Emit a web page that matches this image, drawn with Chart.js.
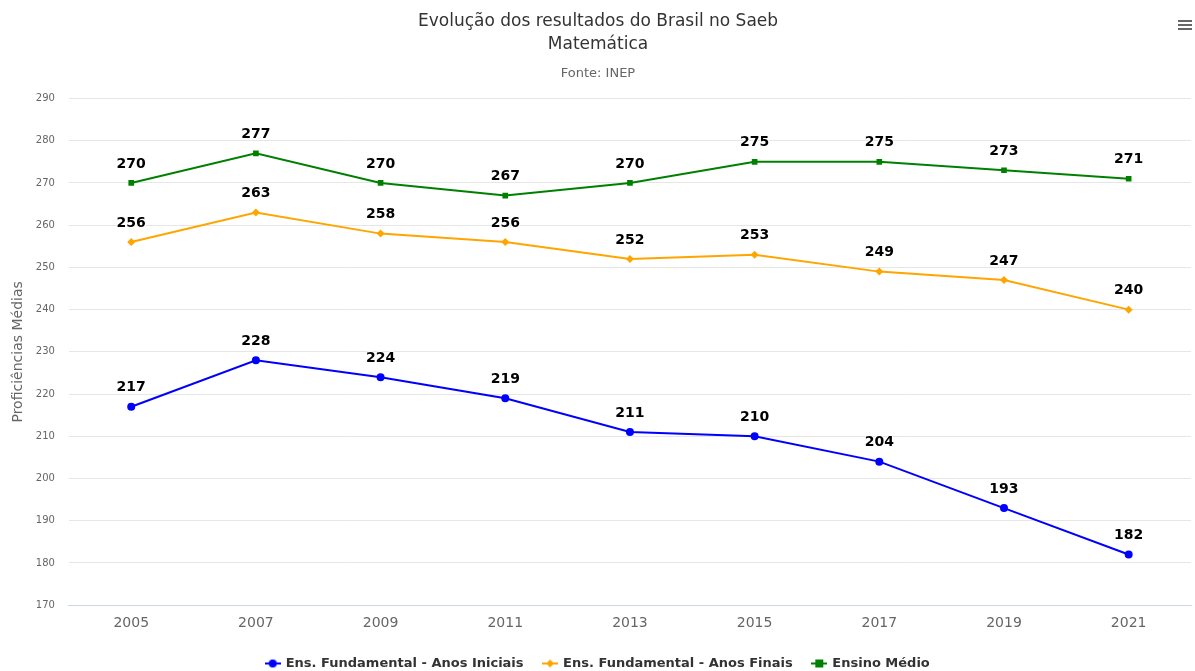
<!DOCTYPE html>
<html>
<head>
<meta charset="utf-8">
<script src="https://cdn.jsdelivr.net/npm/chart.js@4"></script>
<style>
  html, body { margin: 0; padding: 0; background: #fff; }
  #wrap { width: 1195px; height: 671px; position: relative; }
  #menu { position: absolute; right: 3px; top: 20px; width: 14px; }
  #menu span { display: block; height: 2px; background: #666; margin-bottom: 2px; }
</style>
</head>
<body>
<div id="wrap">
  <canvas id="saebChart" width="1195" height="671"></canvas>
  <div id="menu"><span></span><span></span><span></span></div>
</div>
<script>
const anos = ['2005', '2007', '2009', '2011', '2013', '2015', '2017', '2019', '2021'];
const anosIniciais = [217, 228, 224, 219, 211, 210, 204, 193, 182];
const anosFinais = [256, 263, 258, 256, 252, 253, 249, 247, 240];
const ensinoMedio = [270, 277, 270, 267, 270, 275, 275, 273, 271];

const fontFamily = '"DejaVu Sans", Verdana, sans-serif';

// small legend symbols: line through a marker
function legendSymbol(color, shape) {
  const c = document.createElement('canvas');
  c.width = 16; c.height = 10;
  const g = c.getContext('2d');
  g.strokeStyle = color; g.lineWidth = 2;
  g.beginPath(); g.moveTo(0, 5); g.lineTo(16, 5); g.stroke();
  g.fillStyle = color;
  g.beginPath();
  if (shape === 'circle') g.arc(8, 5, 4, 0, Math.PI * 2);
  else if (shape === 'diamond') { g.moveTo(8, 1); g.lineTo(12, 5); g.lineTo(8, 9); g.lineTo(4, 5); g.closePath(); }
  else g.rect(4, 1, 8, 8);
  g.fill();
  return c;
}

const dataLabels = {
  id: 'dataLabels',
  afterDatasetsDraw(chart) {
    const ctx = chart.ctx;
    ctx.save();
    ctx.font = 'bold 14px ' + fontFamily;
    ctx.textAlign = 'center';
    ctx.textBaseline = 'middle';
    ctx.lineJoin = 'round';
    chart.data.datasets.forEach((ds, i) => {
      chart.getDatasetMeta(i).data.forEach((pt, j) => {
        const txt = String(ds.data[j]);
        ctx.strokeStyle = '#fff';
        ctx.lineWidth = 2;
        ctx.strokeText(txt, pt.x, pt.y - 19);
        ctx.fillStyle = '#000';
        ctx.fillText(txt, pt.x, pt.y - 19);
      });
    });
    ctx.restore();
  }
};

const series = [
  { label: 'Ens. Fundamental - Anos Iniciais', data: anosIniciais, color: '#0000ff', style: 'circle', sym: 'circle', r: 4 },
  { label: 'Ens. Fundamental - Anos Finais', data: anosFinais, color: '#ffa500', style: 'rectRot', sym: 'diamond', r: 4 },
  { label: 'Ensino Médio', data: ensinoMedio, color: '#008000', style: 'rect', sym: 'rect', r: 4 }
];

new Chart(document.getElementById('saebChart').getContext('2d'), {
  type: 'line',
  data: {
    labels: anos,
    datasets: series.map(s => ({
      label: s.label,
      data: s.data,
      borderColor: s.color,
      backgroundColor: s.color,
      borderWidth: 2,
      pointStyle: s.style,
      pointRadius: s.r,
      pointHoverRadius: s.r,
      pointBorderWidth: 0,
      tension: 0,
      fill: false,
      legendSymbol: legendSymbol(s.color, s.sym)
    }))
  },
  options: {
    responsive: false,
    animation: false,
    layout: { padding: { left: 1, right: 0, top: 0, bottom: -9 } },
    plugins: {
      title: {
        display: true,
        text: ['Evolução dos resultados do Brasil no Saeb', 'Matemática'],
        color: '#333333',
        font: { family: fontFamily, size: 17, weight: 'normal', lineHeight: 1.35 },
        padding: { top: 10, bottom: 10 }
      },
      subtitle: {
        display: true,
        text: 'Fonte: INEP',
        color: '#666666',
        font: { family: fontFamily, size: 13, weight: 'normal' },
        padding: { top: 0, bottom: 17 }
      },
      legend: {
        position: 'bottom',
        labels: {
          color: '#333333',
          font: { family: fontFamily, size: 13, weight: 'bold' },
          usePointStyle: true,
          boxWidth: 16,
          boxHeight: 10,
          padding: 20,
          generateLabels(chart) {
            return chart.data.datasets.map((ds, i) => ({
              text: ds.label,
              fillStyle: ds.borderColor,
              strokeStyle: ds.borderColor,
              fontColor: '#333333',
              pointStyle: ds.legendSymbol,
              hidden: false,
              datasetIndex: i
            }));
          }
        }
      },
      tooltip: { enabled: false }
    },
    scales: {
      x: {
        offset: true,
        grid: { display: false, drawTicks: false },
        border: { display: true, color: '#ccd6eb', width: 1 },
        ticks: { color: '#666666', font: { family: fontFamily, size: 14 }, padding: 10 },
        afterFit(scale) { scale.height -= 5; }
      },
      y: {
        min: 170,
        max: 290,
        grid: { color: '#e6e6e6', drawTicks: false },
        border: { display: false },
        ticks: { stepSize: 10, color: '#666666', font: { family: fontFamily, size: 10 }, padding: 14 },
        title: {
          display: true,
          text: 'Proficiências Médias',
          color: '#666666',
          font: { family: fontFamily, size: 14 },
          padding: { top: 9, bottom: -5 }
        }
      }
    }
  },
  plugins: [dataLabels]
});
</script>
</body>
</html>
